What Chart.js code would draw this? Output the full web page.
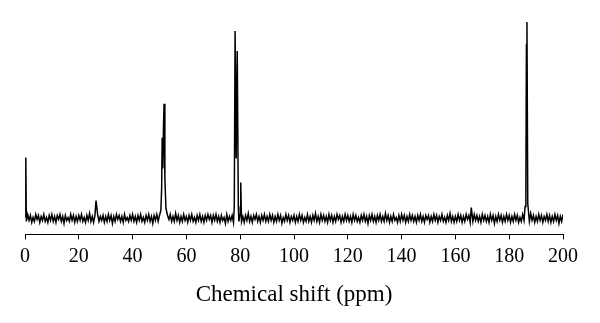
<!DOCTYPE html>
<html>
<head>
<meta charset="utf-8">
<script src="https://cdn.jsdelivr.net/npm/chart.js@4.4.1/dist/chart.umd.min.js"></script>
<style>
  html, body { margin: 0; padding: 0; background: #fff; }
  #wrap { width: 600px; height: 323px; }
</style>
</head>
<body>
<div id="wrap"><canvas id="nmr"></canvas></div>
<script>
// baseline noise, one sample every 0.5 ppm from 0 to 200
const shiftStep = 0.5;
const baseline = [
  2,-3,4,-2,3,-4,1,-3,4,-1,3,-4,2,-2,4,-3,1,-4,3,-2,
  4,-3,2,-4,3,-1,4,-3,2,-5,3,-2,1,-3,4,-2,3,-4,2,-3,
  3,-2,4,-3,1,-4,3,-2,5,-3,2,-4,3,-1,4,-3,2,-2,3,-4,
  2,-3,4,-2,3,-5,2,-3,4,-1,3,-3,2,-4,4,-2,1,-3,3,-2,
  4,-3,2,-4,3,-2,4,-3,1,-4,3,-2,4,-3,2,-5,3,-2,4,-3,
  3,-2,4,-3,2,-4,3,-1,4,-3,2,-3,5,-2,3,-4,2,-3,4,-2,
  2,-4,3,-2,4,-3,1,-4,3,-2,4,-3,2,-4,3,-2,4,-1,3,-4,
  3,-2,4,-3,2,-4,3,-2,1,-5,4,-3,2,-2,3,-4,4,-3,2,-3,
  4,-3,2,-4,3,-2,5,-3,2,-4,3,-1,4,-3,2,-4,3,-2,4,-3,
  2,-3,4,-2,3,-4,2,-3,4,-2,3,-5,1,-3,4,-2,3,-4,2,-2,
  3,-4,2,-3,4,-2,3,-4,1,-3,4,-3,2,-4,3,-2,5,-3,2,-4,
  4,-2,3,-3,2,-4,4,-2,3,-4,2,-3,4,-1,3,-4,2,-3,4,-2,
  3,-3,2,-4,4,-2,3,-3,1,-4,3,-2,4,-3,2,-5,3,-2,4,-3,
  2,-4,3,-2,4,-3,2,-3,5,-2,3,-4,2,-3,4,-2,1,-4,3,-3,
  4,-2,3,-4,2,-3,4,-2,3,-3,2,-4,3,-2,4,-3,2,-4,3,-1,
  3,-4,2,-3,4,-2,3,-4,2,-2,4,-3,1,-4,3,-2,5,-3,2,-4,
  2,-3,4,-2,3,-4,2,-3,4,-1,3,-4,2,-3,4,-2,3,-3,2,-4,
  4,-2,3,-3,2,-4,4,-2,3,-5,2,-3,4,-2,3,-4,2,-3,4,-2,
  3,-4,2,-3,4,-2,3,-4,1,-3,4,-2,3,-4,2,-3,5,-2,3,-4,
  2,-3,4,-2,3,-4,2,-2,4,-3,3,-4,2,-3,4,-2,3,-5,2,-3,
  4
];

// resonance lines (ppm, intensity)
const peakShift  = [0.3, 26.4,
  50.5, 50.8, 51.0, 51.25, 51.5, 51.7, 52.0, 52.4,
  77.8, 78.1, 78.5, 78.9, 79.3, 80.2,
  165.9,
  185.9, 186.2, 186.4, 186.6, 186.9];
const peakHeight = [61, 18,
  8, 30, 81, 50, 95, 115, 40, 10,
  12, 188, 60, 168, 12, 36,
  11,
  12, 32, 174, 197, 15];

const tickLabels = [0, 20, 40, 60, 80, 100, 120, 140, 160, 180, 200];

const points = [];
baseline.forEach((v, i) => {
  const x = i * shiftStep;
  // skip noise samples that sit inside a peak
  if (peakShift.some(p => Math.abs(p - x) < 0.15)) return;
  points.push({ x: x, y: v });
});
peakShift.forEach((p, i) => points.push({ x: p, y: peakHeight[i] }));
points.sort((a, b) => a.x - b.x);

const serif = '"Liberation Serif", "DejaVu Serif", serif';

new Chart(document.getElementById('nmr'), {
  type: 'line',
  data: {
    datasets: [{
      data: points,
      borderColor: '#000',
      borderWidth: 1.5,
      pointRadius: 0,
      tension: 0,
      fill: false
    }]
  },
  options: {
    responsive: true,
    maintainAspectRatio: false,
    animation: false,
    events: [],
    layout: { padding: { left: 25, right: 37, top: 19, bottom: 14 } },
    plugins: { legend: { display: false }, tooltip: { enabled: false } },
    scales: {
      x: {
        type: 'linear',
        min: 0,
        max: 200,
        afterBuildTicks: axis => { axis.ticks = tickLabels.map(v => ({ value: v })); },
        grid: { display: true, drawOnChartArea: false, drawTicks: true, tickLength: 5, color: '#000' },
        border: { display: true, color: '#000', width: 1 },
        ticks: { color: '#000', font: { family: serif, size: 20 }, padding: 5, maxRotation: 0, autoSkip: false },
        title: { display: true, text: 'Chemical shift (ppm)', color: '#000',
                 font: { family: serif, size: 23 }, padding: { top: 8, bottom: 0 } }
      },
      y: {
        display: false,
        min: -16,
        max: 200
      }
    }
  }
});
</script>
</body>
</html>
